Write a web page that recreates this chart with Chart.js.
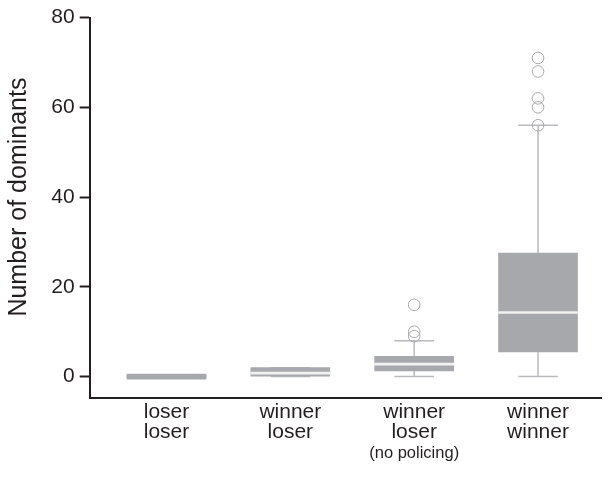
<!DOCTYPE html>
<html>
<head>
<meta charset="utf-8">
<script src="https://cdn.jsdelivr.net/npm/chart.js@4.4.1/dist/chart.umd.min.js"></script>
<style>
  html, body { margin: 0; padding: 0; background: #ffffff; }
  #wrap { width: 608px; height: 485px; }
</style>
</head>
<body>
<div id="wrap"><canvas id="chart" width="608" height="485"></canvas></div>
<script>
// Group labels (two lines each) and the small note under the third group
const groupLines = [["loser", "loser"], ["winner", "loser"], ["winner", "loser"], ["winner", "winner"]];
const groupNotes = ["", "", "(no policing)", ""];

// Box-plot summaries per group
const q1Values     = [0, 0, 1.25, 5.5];
const medianValues = [0, 1, 3, 14.5];
const q3Values     = [0, 2, 4.5, 27.5];
const whiskerLow   = [0, 0, 0, 0];
const whiskerHigh  = [0, 2, 8, 56];
const outlierValues = [[], [], [16, 10, 9], [71, 68, 62, 60, 56]];

// Value axis
const yTickValues = [0, 20, 40, 60, 80];
const yTitle = "Number of dominants";

const TEXT = "#231f20";
const BOX = "#a7a8ab";
const MEDIAN = "#f2f2f2";
const WHISKER = "#b9babd";
const FONT = '"Liberation Sans", Arial, Helvetica, sans-serif';
const CAP_HALF = 0.16;

const positions = groupLines.map((_, i) => i + 1);

const boxData = positions.map((x, i) => ({ x, y: [q1Values[i], q3Values[i]] }));
const medianData = positions.map((x, i) => ({ x, y: [medianValues[i], medianValues[i]] }));

const whiskerData = [];
positions.forEach((x, i) => {
  whiskerData.push({ x, y: whiskerLow[i] }, { x, y: q1Values[i] }, { x, y: null });
  whiskerData.push({ x, y: q3Values[i] }, { x, y: whiskerHigh[i] }, { x, y: null });
  whiskerData.push({ x: x - CAP_HALF, y: whiskerLow[i] }, { x: x + CAP_HALF, y: whiskerLow[i] }, { x, y: null });
  whiskerData.push({ x: x - CAP_HALF, y: whiskerHigh[i] }, { x: x + CAP_HALF, y: whiskerHigh[i] }, { x, y: null });
});

const outlierData = [];
positions.forEach((x, i) => outlierValues[i].forEach(v => outlierData.push({ x, y: v })));

// Rotated value-axis title, centred on the 0–80 range
const yTitlePlugin = {
  id: "yTitle",
  afterDraw(chart) {
    const ys = chart.scales.y;
    const mid = (ys.getPixelForValue(yTickValues[0]) + ys.getPixelForValue(yTickValues[yTickValues.length - 1])) / 2;
    const ctx = chart.ctx;
    ctx.save();
    ctx.translate(19, mid);
    ctx.rotate(-Math.PI / 2);
    ctx.font = "25px " + FONT;
    ctx.fillStyle = TEXT;
    ctx.textAlign = "center";
    ctx.textBaseline = "middle";
    ctx.fillText(yTitle, 0, 0);
    ctx.restore();
  }
};

new Chart(document.getElementById("chart"), {
  type: "bar",
  data: {
    datasets: [
      {
        type: "line",
        data: outlierData,
        showLine: false,
        pointStyle: "circle",
        pointRadius: 5.8,
        pointBorderWidth: 1,
        pointBorderColor: "#a9aaad",
        pointBackgroundColor: "rgba(0,0,0,0)",
        order: 1
      },
      {
        data: medianData,
        backgroundColor: ctx => (q1Values[ctx.dataIndex] === q3Values[ctx.dataIndex] ? BOX : MEDIAN),
        borderWidth: 0,
        barThickness: 79,
        minBarLength: 2,
        grouped: false,
        order: 2
      },
      {
        data: boxData,
        backgroundColor: BOX,
        borderWidth: 0,
        barThickness: 79,
        minBarLength: 5,
        grouped: false,
        order: 3
      },
      {
        type: "line",
        data: whiskerData,
        borderColor: WHISKER,
        borderWidth: 1.5,
        pointRadius: 0,
        spanGaps: false,
        order: 4
      }
    ]
  },
  options: {
    responsive: false,
    animation: false,
    devicePixelRatio: 1,
    layout: { padding: { top: 14.7, right: 2, left: 0, bottom: 0 } },
    plugins: { legend: { display: false }, tooltip: { enabled: false } },
    scales: {
      x: {
        type: "linear",
        position: "bottom",
        min: 0.38,
        max: 4.51,
        offset: false,
        grid: { display: false, drawTicks: false },
        border: { display: true, color: TEXT, width: 2 },
        afterBuildTicks: axis => { axis.ticks = positions.map(v => ({ value: v })); },
        afterFit: axis => { axis.height = 45; },
        ticks: {
          autoSkip: false,
          maxRotation: 0,
          padding: 4,
          color: TEXT,
          font: { family: FONT, size: 21, lineHeight: 0.97 },
          callback: v => groupLines[v - 1]
        }
      },
      x2: {
        type: "linear",
        position: "bottom",
        min: 0.38,
        max: 4.51,
        offset: false,
        grid: { display: false, drawTicks: false },
        border: { display: false },
        afterBuildTicks: axis => { axis.ticks = positions.filter((v, i) => groupNotes[i]).map(v => ({ value: v })); },
        afterFit: axis => { axis.height = 42.3; },
        ticks: {
          autoSkip: false,
          maxRotation: 0,
          padding: 0.5,
          color: TEXT,
          font: { family: FONT, size: 16.5 },
          callback: v => groupNotes[v - 1]
        }
      },
      y: {
        type: "linear",
        min: -4.7,
        max: 80,
        grid: { drawOnChartArea: false, drawTicks: true, tickLength: 10, tickWidth: 2, tickColor: TEXT },
        border: { display: true, color: TEXT, width: 2 },
        afterBuildTicks: axis => { axis.ticks = yTickValues.map(v => ({ value: v })); },
        afterFit: axis => { axis.width = 89.7; },
        ticks: {
          padding: 5,
          color: TEXT,
          font: { family: FONT, size: 21 }
        }
      }
    }
  },
  plugins: [yTitlePlugin]
});
</script>
</body>
</html>
